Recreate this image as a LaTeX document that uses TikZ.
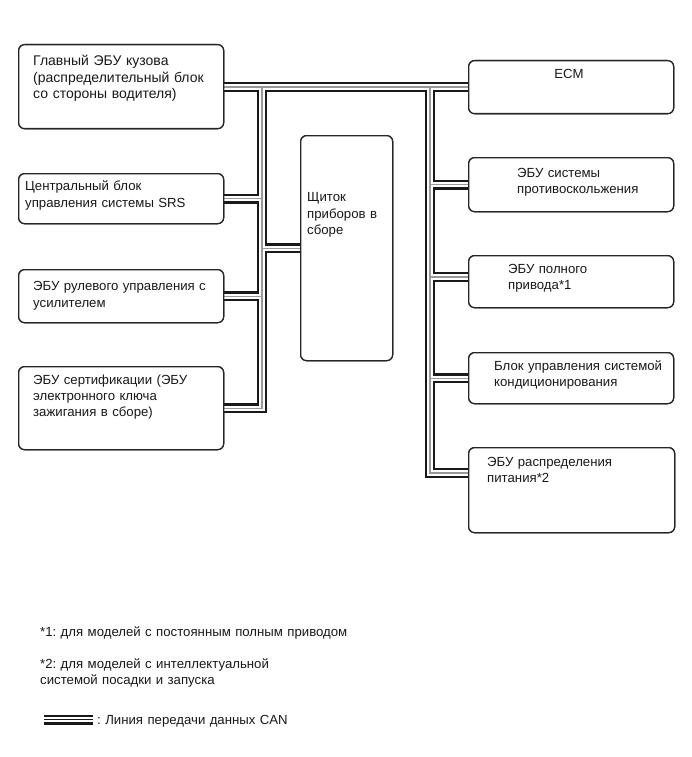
\documentclass[tikz,border=0pt]{standalone}
\usepackage{fontspec}
\setmainfont{Liberation Sans}
\frenchspacing
\begin{document}
\begin{tikzpicture}[x=1pt,y=-1pt,
  box/.style={draw=black!85, line width=1.3pt, rounded corners=6pt, fill=white, inner sep=0pt, anchor=north west},
  txt/.style={inner sep=0pt, anchor=north west, align=left, text width=230pt, text=black!90,
    font=\fontsize{13.2}{16.3}\selectfont},
  ctxt/.style={inner sep=0pt, anchor=north, text=black!90, font=\fontsize{13.2}{16.3}\selectfont},
  busA/.style={draw=black!90, line width=10pt, line cap=butt, line join=miter},
  busB/.style={draw=white, line width=5.2pt, line cap=butt, line join=miter},
  busC/.style={draw=black!40, line width=1.2pt, line cap=butt, line join=miter}]
\useasboundingbox (0,0) rectangle (691,757);

% junction / bus coordinates
\coordinate (jL) at (262,87);
\coordinate (jR) at (430,87);
\coordinate (p7) at (468,277);
\coordinate (p9) at (468,473);
\coordinate (lg1) at (44,719.5);
\coordinate (lg2) at (93,719.5);

\newcommand{\boxes}{%
\node[box, minimum width=205pt, minimum height=84pt] (b1) at (18,44) {};
\node[box, minimum width=205pt, minimum height=50pt] (b2) at (18,173) {};
\node[box, minimum width=205pt, minimum height=53pt] (b3) at (18,269) {};
\node[box, minimum width=205pt, minimum height=83pt] (b4) at (18,366) {};
\node[box, minimum width=92pt, minimum height=225pt] (ic) at (300,135) {};
\node[box, minimum width=205pt, minimum height=53pt] (b5) at (468,60) {};
\node[box, minimum width=205pt, minimum height=54pt] (b6) at (468,157) {};
\node[box, minimum width=205pt, minimum height=52pt] (b7) at (468,255) {};
\node[box, minimum width=205pt, minimum height=51pt] (b8) at (468,352) {};
\node[box, minimum width=206pt, minimum height=85pt] (b9) at (468,447) {};
}
\boxes

\newcommand{\buspath}{%
  (jL -| b1.east) -- (jL -| b5.west)
  (jL) -- (jL |- b4.east) -- (b4.east)
  (jL |- b2.east) -- (b2.east)
  (jL |- b3.east) -- (b3.east)
  (jL |- ic.west) -- (ic.west)
  (jR) -- (jR |- p9) -- (p9)
  (jR |- b6.west) -- (b6.west)
  (jR |- p7) -- (p7)
  (jR |- b8.west) -- (b8.west)
}
\draw[busA] \buspath;
\draw[busB] \buspath;
\draw[busC] \buspath;

% redraw boxes on top of bus ends
\boxes

% texts
\node[txt, font=\fontsize{14}{16.5}\selectfont] (t1) at (33,54.1) {\strut Главный ЭБУ кузова\\(распределительный блок\\со стороны водителя)};
\node[txt] (t2) at (25,179.3) {\strut Центральный блок\\управления системы SRS};
\node[txt] (t3) at (33,279.3) {\strut ЭБУ рулевого управления с\\усилителем};
\node[txt] (t4) at (33,372.6) {\strut ЭБУ сертификации (ЭБУ\\электронного ключа\\зажигания в сборе)};
\node[ctxt] (t5) at (569,66.6) {\strut ECM};
\node[txt] (t6) at (517,165.9) {\strut ЭБУ системы\\противоскольжения};
\node[txt] (t7) at (508,261.9) {\strut ЭБУ полного\\привода*1};
\node[txt] (t8) at (494,358.6) {\strut Блок управления системой\\кондиционирования};
\node[txt] (t9) at (487,454.6) {\strut ЭБУ распределения\\питания*2};
\node[txt] (ti) at (307,190.3) {\strut Щиток\\приборов в\\сборе};

% footnotes
\node[txt, text width=400pt] (f1) at (40,625.3) {\strut *1: для моделей с постоянным полным приводом};
\node[txt, text width=400pt] (f2) at (40,656.9) {\strut *2: для моделей с интеллектуальной\\системой посадки и запуска};

% legend
\draw[busA] (lg1) -- (lg2);
\draw[busB] (lg1) -- (lg2);
\draw[black!90, line width=1.3pt] (lg1) -- (lg2);
\node[txt, text width=300pt] (lgt) at (97,712.9) {\strut : Линия передачи данных CAN};
\end{tikzpicture}
\end{document}
